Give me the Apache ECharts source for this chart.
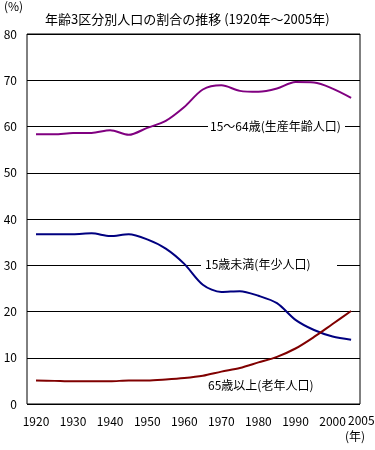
<!DOCTYPE html>
<html>
<head>
<meta charset="utf-8">
<script src="https://cdn.jsdelivr.net/npm/echarts@6/dist/echarts.min.js"></script>
<style>
  html, body { margin: 0; padding: 0; background: #fff; }
  #chart { width: 375px; height: 450px; }
</style>
</head>
<body>
<div id="chart"></div>
<script>
// census years (5-year steps)
const years = [1920, 1925, 1930, 1935, 1940, 1945, 1950, 1955, 1960, 1965, 1970, 1975, 1980, 1985, 1990, 1995, 2000, 2005];

// share of population by age group (%)
const working = [58.3, 58.3, 58.6, 58.6, 59.2, 58.2, 59.7, 61.2, 64.2, 68.0, 68.9, 67.7, 67.5, 68.2, 69.6, 69.5, 68.2, 66.2];
const young = [36.7, 36.7, 36.7, 36.9, 36.3, 36.7, 35.6, 33.6, 30.3, 25.8, 24.2, 24.4, 23.4, 21.8, 18.2, 16.0, 14.6, 13.9];
const elderly = [5.1, 5.0, 4.9, 4.9, 4.9, 5.1, 5.1, 5.3, 5.6, 6.1, 7.0, 7.8, 9.0, 10.2, 12.0, 14.5, 17.3, 20.1];

const xTicks = [1920, 1930, 1940, 1950, 1960, 1970, 1980, 1990, 2000];

const FONT = "'Noto Sans CJK JP', 'Noto Sans', sans-serif";

const chart = echarts.init(document.getElementById("chart"));

const toPairs = (vals) => years.map((y, i) => [y, vals[i]]);

const lineSeries = (name, vals, color) => ({
  name,
  type: "line",
  data: toPairs(vals),
  smooth: 0.3,
  symbol: "none",
  lineStyle: { width: 2, color },
  itemStyle: { color },
  z: 5,
});

const option = {
  animation: false,
  backgroundColor: "#fff",
  title: {
    text: "年齢3区分別人口の割合の推移 (1920年～2005年)",
    left: 40,
    top: 8,
    textStyle: { fontSize: 13, fontWeight: "normal", color: "#000", fontFamily: FONT },
  },
  grid: {
    left: 27,
    right: 15,
    top: 34,
    bottom: 46,
    show: true,
    borderColor: "#000",
    borderWidth: 1,
    backgroundColor: "transparent",
  },
  xAxis: {
    type: "value",
    min: 1917.57,
    max: 2007.4,
    axisLine: { show: false },
    axisTick: { show: false },
    splitLine: { show: false },
    axisLabel: {
      customValues: xTicks,
      formatter: (v) => String(v),
      margin: 11,
      color: "#000",
      fontSize: 12,
      fontFamily: FONT,
    },
  },
  yAxis: {
    type: "value",
    min: 0,
    max: 80,
    interval: 10,
    axisLine: { show: false },
    axisTick: { show: false },
    splitLine: { show: true, lineStyle: { color: "#000", width: 1 } },
    axisLabel: { margin: 10, color: "#000", fontSize: 12, fontFamily: FONT },
  },
  graphic: [
    { type: "text", x: 4, y: 0, style: { text: "(%)", font: "12px " + FONT, fill: "#000" } },
    { type: "text", x: 348, y: 414, style: { text: "2005", font: "12px " + FONT, fill: "#000" } },
    { type: "text", x: 345, y: 430, style: { text: "(年)", font: "12px " + FONT, fill: "#000" } },
    { type: "rect", z: 10, shape: { x: 208, y: 121, width: 137, height: 12 }, style: { fill: "#fff" } },
    { type: "text", z: 11, x: 210, y: 120, style: { text: "15～64歳(生産年齢人口)", font: "12px " + FONT, fill: "#000" } },
    { type: "rect", z: 10, shape: { x: 201, y: 259, width: 136, height: 12 }, style: { fill: "#fff" } },
    { type: "text", z: 11, x: 205, y: 258, style: { text: "15歳未満(年少人口)", font: "12px " + FONT, fill: "#000" } },
    { type: "text", z: 11, x: 208, y: 379, style: { text: "65歳以上(老年人口)", font: "12px " + FONT, fill: "#000" } },
  ],
  series: [
    lineSeries("15～64歳", working, "#800080"),
    lineSeries("15歳未満", young, "#000080"),
    lineSeries("65歳以上", elderly, "#800000"),
  ],
};

chart.setOption(option);
</script>
</body>
</html>
